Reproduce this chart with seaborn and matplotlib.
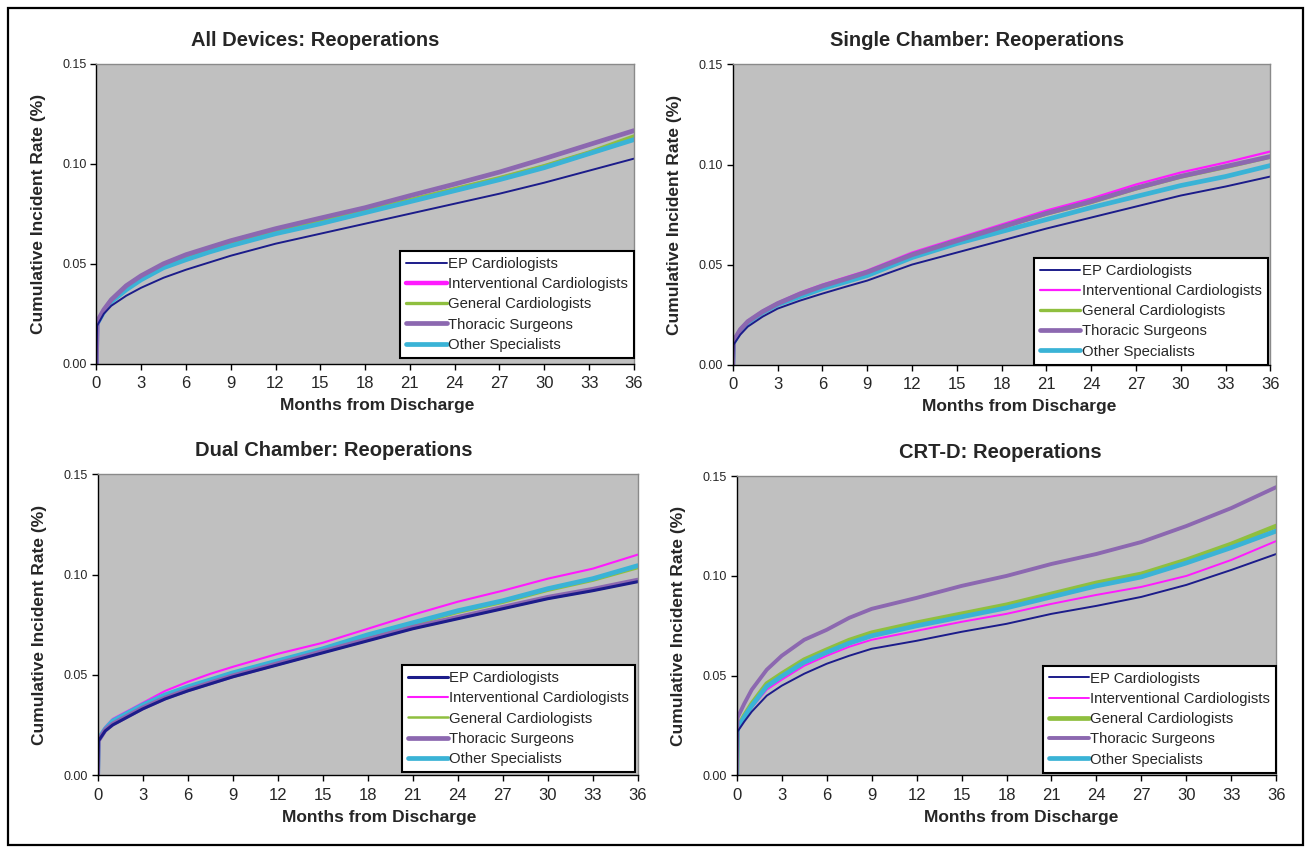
import matplotlib
matplotlib.use("Agg")
import matplotlib.pyplot as plt
import seaborn as sns
import pandas as pd
from matplotlib.patches import Rectangle

sns.set_theme(style="white")
plt.rcParams['font.family'] = ['Liberation Sans', 'DejaVu Sans']

months = [0, 0.05, 0.5, 1, 2, 3, 4.5, 6, 7.5, 9, 12, 15, 18, 21, 24, 27, 30, 33, 36]
specialists = ["EP Cardiologists", "Interventional Cardiologists", "General Cardiologists",
               "Thoracic Surgeons", "Other Specialists"]
titles = ["All Devices: Reoperations", "Single Chamber: Reoperations",
          "Dual Chamber: Reoperations", "CRT-D: Reoperations"]
x_ticks = list(range(0, 37, 3))
y_ticks = [0.00, 0.05, 0.10, 0.15]

# All Devices
all_ep = [0, 0.019, 0.025, 0.029, 0.034, 0.038, 0.043, 0.047, 0.0505, 0.054, 0.060, 0.065, 0.070, 0.075, 0.080, 0.085, 0.0905, 0.0965, 0.1025]
all_int = [0, 0.020, 0.0265, 0.0315, 0.0375, 0.0425, 0.0485, 0.0525, 0.056, 0.0595, 0.0655, 0.0705, 0.076, 0.0815, 0.087, 0.0925, 0.0985, 0.1053, 0.1125]
all_gen = [0, 0.020, 0.0268, 0.0318, 0.0378, 0.0428, 0.0488, 0.053, 0.0567, 0.060, 0.066, 0.071, 0.0765, 0.082, 0.0875, 0.093, 0.099, 0.1058, 0.1138]
all_tho = [0, 0.021, 0.027, 0.032, 0.039, 0.044, 0.050, 0.0545, 0.058, 0.0615, 0.0675, 0.0728, 0.078, 0.084, 0.0898, 0.0958, 0.1025, 0.1095, 0.1165]
all_oth = [0, 0.020, 0.026, 0.031, 0.037, 0.042, 0.048, 0.052, 0.0557, 0.059, 0.065, 0.070, 0.0755, 0.081, 0.0865, 0.092, 0.098, 0.105, 0.112]

# Single Chamber
sc_ep = [0, 0.010, 0.015, 0.019, 0.024, 0.028, 0.032, 0.0355, 0.0388, 0.042, 0.050, 0.056, 0.062, 0.068, 0.0735, 0.079, 0.0845, 0.089, 0.094]
sc_int = [0, 0.012, 0.018, 0.022, 0.027, 0.031, 0.036, 0.040, 0.0435, 0.047, 0.056, 0.063, 0.070, 0.077, 0.083, 0.090, 0.096, 0.101, 0.1065]
sc_gen = [0, 0.0115, 0.0172, 0.0212, 0.0262, 0.0302, 0.035, 0.039, 0.0423, 0.0458, 0.0545, 0.0615, 0.0685, 0.0752, 0.081, 0.0878, 0.0937, 0.0985, 0.1037]
sc_tho = [0, 0.0118, 0.0175, 0.0215, 0.0265, 0.0305, 0.0353, 0.0393, 0.0427, 0.0462, 0.0549, 0.0619, 0.0688, 0.0756, 0.0815, 0.0882, 0.0941, 0.099, 0.104]
sc_oth = [0, 0.011, 0.017, 0.021, 0.026, 0.030, 0.034, 0.038, 0.0412, 0.0445, 0.0535, 0.0605, 0.0665, 0.0725, 0.0785, 0.084, 0.0895, 0.094, 0.0995]

# Dual Chamber
dc_ep = [0, 0.017, 0.022, 0.025, 0.029, 0.033, 0.038, 0.042, 0.0455, 0.049, 0.055, 0.061, 0.067, 0.073, 0.078, 0.083, 0.088, 0.092, 0.0965]
dc_int = [0, 0.018, 0.024, 0.028, 0.032, 0.036, 0.042, 0.0465, 0.0505, 0.054, 0.0605, 0.066, 0.073, 0.080, 0.0865, 0.092, 0.098, 0.103, 0.110]
dc_gen = [0, 0.0175, 0.0223, 0.0262, 0.0302, 0.034, 0.039, 0.043, 0.0465, 0.050, 0.056, 0.062, 0.069, 0.075, 0.081, 0.086, 0.092, 0.097, 0.1033]
dc_tho = [0, 0.0172, 0.0225, 0.0255, 0.0295, 0.0335, 0.0385, 0.0425, 0.046, 0.0495, 0.0556, 0.0617, 0.0677, 0.0737, 0.0787, 0.0837, 0.0887, 0.0927, 0.0973]
dc_oth = [0, 0.018, 0.023, 0.027, 0.031, 0.035, 0.040, 0.044, 0.0475, 0.051, 0.057, 0.063, 0.070, 0.076, 0.082, 0.087, 0.093, 0.098, 0.1045]

# CRT-D
crt_ep = [0, 0.022, 0.027, 0.032, 0.040, 0.045, 0.051, 0.056, 0.060, 0.0635, 0.0675, 0.072, 0.076, 0.081, 0.085, 0.0895, 0.0955, 0.103, 0.111]
crt_int = [0, 0.023, 0.029, 0.034, 0.043, 0.048, 0.055, 0.060, 0.0645, 0.068, 0.0725, 0.077, 0.081, 0.086, 0.0905, 0.0945, 0.100, 0.108, 0.1175]
crt_gen = [0, 0.024, 0.030, 0.036, 0.046, 0.051, 0.058, 0.063, 0.0678, 0.0715, 0.0765, 0.081, 0.0855, 0.091, 0.0965, 0.101, 0.108, 0.116, 0.125]
crt_tho = [0, 0.029, 0.036, 0.043, 0.053, 0.060, 0.068, 0.073, 0.0790, 0.0835, 0.089, 0.095, 0.100, 0.106, 0.111, 0.117, 0.125, 0.134, 0.1445]
crt_oth = [0, 0.0235, 0.0293, 0.035, 0.0447, 0.0497, 0.0567, 0.0617, 0.0663, 0.070, 0.075, 0.0795, 0.084, 0.0895, 0.095, 0.0995, 0.1065, 0.1142, 0.1225]

panels = [
    [all_ep, all_int, all_gen, all_tho, all_oth],
    [sc_ep, sc_int, sc_gen, sc_tho, sc_oth],
    [dc_ep, dc_int, dc_gen, dc_tho, dc_oth],
    [crt_ep, crt_int, crt_gen, crt_tho, crt_oth],
]

colors = {"EP Cardiologists": "#1c1c8a",
          "Interventional Cardiologists": "#ff1aff",
          "General Cardiologists": "#8fbf3f",
          "Thoracic Surgeons": "#8c68b0",
          "Other Specialists": "#3ab3d6"}
# line widths per panel (EP, Int, Gen, Tho, Oth)
widths = [
    [1.4, 3.2, 2.4, 3.4, 3.4],
    [1.4, 1.6, 2.4, 3.4, 3.4],
    [2.2, 1.5, 1.8, 3.4, 3.4],
    [1.4, 1.4, 3.4, 2.8, 3.4],
]
draw_order = [1, 2, 4, 3, 0]

axes_pos = [
    [0.0735, 0.5710, 0.4100, 0.3540],
    [0.5590, 0.5700, 0.4100, 0.3540],
    [0.0745, 0.0860, 0.4120, 0.3545],
    [0.5620, 0.0855, 0.4115, 0.3530],
]
title_x = [0.407, 0.454, 0.438, 0.489]
xlabel_x = [0.522, 0.532, 0.522, 0.528]
legend_anchor = [(1.0, 0.02), (0.995, 0.0), (0.995, 0.01), (1.0, 0.01)]

fig = plt.figure(figsize=(13.11, 8.48), dpi=100)
fig.patch.set_facecolor("white")

for p in range(4):
    ax = fig.add_axes(axes_pos[p])
    ax.set_facecolor("#c0c0c0")
    for i in draw_order:
        name = specialists[i]
        df = pd.DataFrame({"Months": months, "Rate": panels[p][i]})
        sns.lineplot(data=df, x="Months", y="Rate", ax=ax, color=colors[name],
                     lw=widths[p][i], label=name, estimator=None, sort=False)
    ax.set_xlim(0, 36)
    ax.set_ylim(0, 0.15)
    ax.set_xticks(x_ticks)
    ax.set_yticks(y_ticks)
    ax.set_yticklabels([f"{v:.2f}" for v in y_ticks], fontsize=9)
    ax.set_xticklabels([str(v) for v in x_ticks], fontsize=12)
    ax.tick_params(axis="both", direction="out", length=4, width=1, color="black",
                   bottom=True, left=True)
    ax.tick_params(axis="x", pad=5)
    ax.tick_params(axis="y", pad=3)
    ax.set_xlabel("Months from Discharge", fontsize=12.5, fontweight="bold", labelpad=5,
                  x=xlabel_x[p])
    ax.set_ylabel("Cumulative Incident Rate (%)", fontsize=12.5, fontweight="bold", labelpad=12)
    ax.set_title(titles[p], fontsize=14.5, fontweight="bold", pad=13, x=title_x[p])
    for s in ["left", "bottom"]:
        ax.spines[s].set_color("black")
        ax.spines[s].set_linewidth(1.0)
    for s in ["top", "right"]:
        ax.spines[s].set_color("#8a8a8a")
        ax.spines[s].set_linewidth(1.0)
    h, l = ax.get_legend_handles_labels()
    order = [l.index(n) for n in specialists]
    leg = ax.legend([h[k] for k in order], [l[k] for k in order], loc="lower right",
                    bbox_to_anchor=legend_anchor[p], borderaxespad=0, fontsize=10.7,
                    frameon=True, fancybox=False, edgecolor="black", facecolor="white",
                    framealpha=1, handlelength=2.7, handletextpad=0.1, labelspacing=0.42,
                    borderpad=0.4)
    leg.get_frame().set_linewidth(1.5)

fig.patches.append(Rectangle((0.006, 0.003), 0.988, 0.988, transform=fig.transFigure,
                             fill=False, edgecolor="black", lw=1.6))

fig.savefig("out.png", dpi=100)
